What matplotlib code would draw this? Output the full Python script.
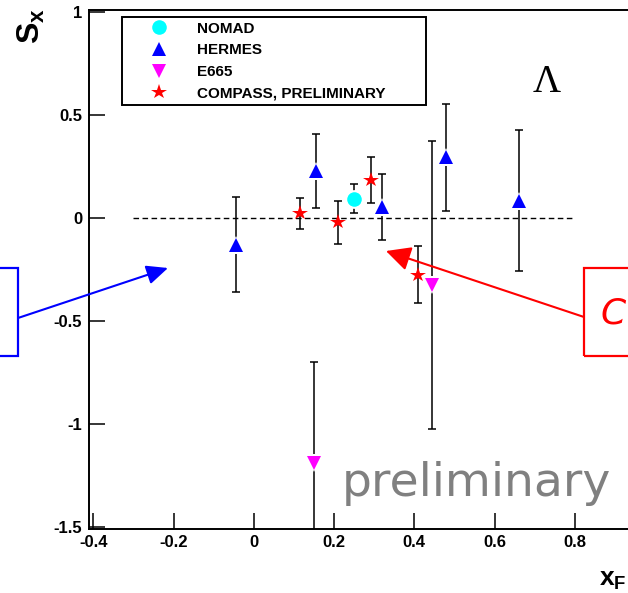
import matplotlib
matplotlib.use("Agg")
import matplotlib.pyplot as plt
from matplotlib.patches import Rectangle

plt.rcParams["font.family"] = ["Liberation Sans", "DejaVu Sans"]
plt.rcParams["axes.unicode_minus"] = False
plt.rcParams["mathtext.fontset"] = "custom"
plt.rcParams["mathtext.rm"] = "Liberation Sans"
plt.rcParams["mathtext.bf"] = "Liberation Sans:bold"

# S_x(x_F) for Lambda
nomad_x = [0.25]
nomad_y = [0.094]
nomad_err = [0.07]

hermes_x = [-0.045, 0.155, 0.32, 0.48, 0.66]
hermes_y = [-0.13, 0.23, 0.055, 0.295, 0.085]
hermes_err = [0.23, 0.18, 0.16, 0.26, 0.34]

e665_x = [0.15, 0.445]
e665_y = [-1.19, -0.325]
e665_err = [0.49, 0.70]

compass_x = [0.115, 0.21, 0.293, 0.41]
compass_y = [0.022, -0.02, 0.185, -0.275]
compass_err = [0.074, 0.105, 0.113, 0.137]

xticks = [-0.4, -0.2, 0, 0.2, 0.4, 0.6, 0.8]
xtick_labels = ["-0.4", "-0.2", "0", "0.2", "0.4", "0.6", "0.8"]
yticks = [-1.5, -1, -0.5, 0, 0.5, 1]
ytick_labels = ["-1.5", "-1", "-0.5", "0", "0.5", "1"]

W, H = 628, 593


def fx(px):
    return px / W


def fy(py):
    return 1 - py / H


fig = plt.figure(figsize=(W / 100, H / 100), dpi=100)
ax = fig.add_axes([fx(89.3), fy(529), (655 - 89.3) / W, 519 / H])
ax.set_xlim(-0.41, 1.0)
ax.set_ylim(-1.51, 1.01)

ax.plot([-0.3, 0.8], [0, 0], color="black", lw=1.0, ls=(0, (4, 2.5)), zorder=1)

series = [
    (nomad_x, nomad_y, nomad_err, "o", "#00ffff", "NOMAD", True),
    (hermes_x, hermes_y, hermes_err, "^", "#0000ff", "HERMES", True),
    (e665_x, e665_y, e665_err, "v", "#ff00ff", "E665", True),
    (compass_x, compass_y, compass_err, "*", "#ff0000", "COMPASS, PRELIMINARY", False),
]
handles = []
for x, y, err, m, c, lab, gap in series:
    ax.errorbar(x, y, yerr=err, fmt="none", ecolor="black", elinewidth=1.1,
                capsize=2.6, capthick=1.1, zorder=2)
    if gap:
        ax.plot(x, y, ls="none", marker=m, ms=13.5, color="white", mew=0, zorder=3)
    h, = ax.plot(x, y, ls="none", marker=m, ms=10.5 if m != "*" else 11.5,
                 color=c, mew=0, label=lab, zorder=4)
    handles.append(h)

for s in ["left", "bottom", "top"]:
    ax.spines[s].set_linewidth(1.4)
ax.spines["right"].set_visible(False)
ax.set_xticks(xticks)
ax.set_xticklabels(xtick_labels)
ax.set_yticks(yticks)
ax.set_yticklabels(ytick_labels)
ax.tick_params(direction="in", length=11.5, width=1.1, labelsize=12, pad=4)
ax.tick_params(axis="y", pad=5)
for t in ax.get_xticklabels() + ax.get_yticklabels():
    t.set_fontweight("bold")

leg = ax.legend(handles=handles, loc="upper left", mode="expand",
                bbox_to_anchor=(fx(122), fy(121), 304 / W, 104 / H),
                bbox_transform=fig.transFigure, fancybox=False, framealpha=1,
                edgecolor="black", numpoints=1, handlelength=4.3,
                handletextpad=0.3, borderpad=0.3, labelspacing=0.5,
                borderaxespad=0, prop={"weight": "bold", "size": 11})
leg.get_frame().set_linewidth(1.4)

fig.text(fx(16), fy(8), r"$\mathbf{S}_{\mathbf{x}}$", rotation=90, fontsize=23,
         ha="left", va="top")
fig.text(fx(599), fy(586), r"$\mathbf{x}_{\mathbf{F}}$", fontsize=19,
         ha="left", va="baseline")
ax.text(0.73, 0.66, "\u039b", family="Liberation Serif", fontsize=28,
        ha="center", va="center")
fig.text(fx(342), fy(496), "preliminary", family="DejaVu Sans", fontsize=34,
         color="#808080", ha="left", va="baseline")

# annotation boxes and arrows overlaid on the figure
fig.add_artist(Rectangle((fx(-10), fy(356)), fx(28), 88 / H, transform=fig.transFigure,
                         fill=False, edgecolor="#0000ff", lw=1.6))
fig.add_artist(Rectangle((fx(584), fy(356)), fx(80), 88 / H, transform=fig.transFigure,
                         fill=False, edgecolor="#ff0000", lw=1.6))
fig.text(fx(626), fy(314), "C", fontsize=26, color="#ff0000", style="italic",
         family="DejaVu Sans", ha="right", va="center")
ax.annotate("", xy=(fx(168), fy(268)), xytext=(fx(18), fy(318)),
            xycoords="figure fraction", textcoords="figure fraction",
            arrowprops=dict(arrowstyle="-|>,head_length=1.0,head_width=0.45",
                            color="#0000ff", lw=1.5, mutation_scale=13,
                            shrinkA=0, shrinkB=0))
ax.annotate("", xy=(fx(386), fy(251)), xytext=(fx(584), fy(317)),
            xycoords="figure fraction", textcoords="figure fraction",
            arrowprops=dict(arrowstyle="-|>,head_length=1.0,head_width=0.5",
                            color="#ff0000", lw=1.5, mutation_scale=15,
                            shrinkA=0, shrinkB=0))

fig.savefig("out.png", dpi=100)
